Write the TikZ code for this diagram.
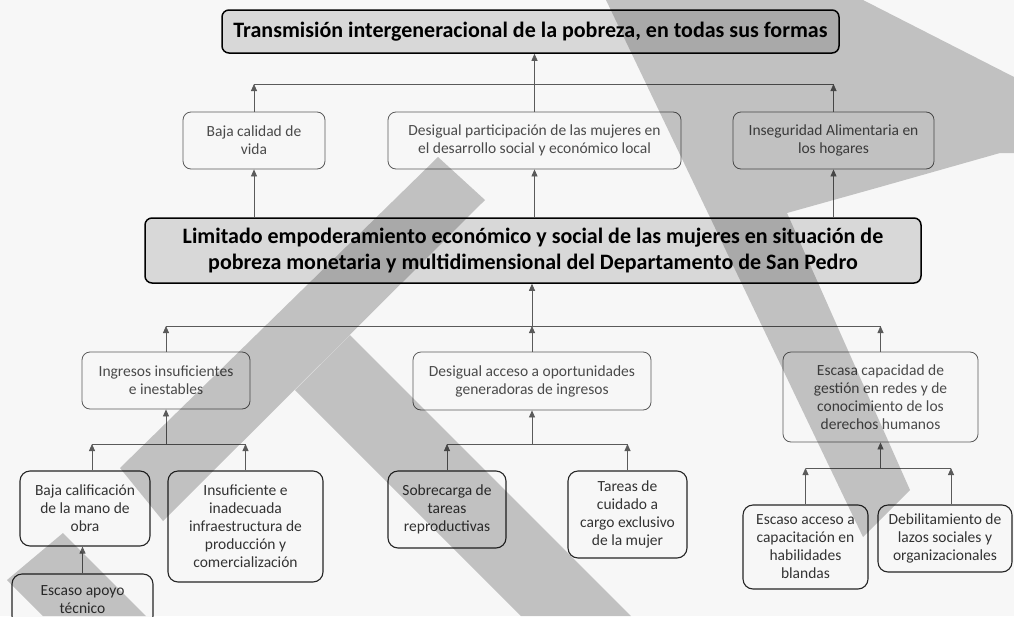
\documentclass[tikz,border=0pt]{standalone}
\usepackage{fontspec}
\setmainfont{Carlito}
\usetikzlibrary{arrows.meta}

\definecolor{fondo}{HTML}{F7F7F7}
\definecolor{relleno}{HTML}{D8D8D8}
\definecolor{borde}{HTML}{5A5A5A}
\definecolor{letra}{HTML}{4A4A4A}
\definecolor{marca}{HTML}{C8C8C8}

\tikzset{
  central/.style={draw=black, line width=1.5pt, rounded corners=7pt, fill=relleno,
    font=\fontsize{22}{26}\selectfont\bfseries, align=center, inner sep=0pt},
  causa/.style={draw=borde, line width=0.8pt, rounded corners=8pt, fill=fondo, text=letra,
    font=\fontsize{15.5}{18}\selectfont, align=center, inner sep=0pt},
  hoja/.style={causa, draw=black!85, line width=1.1pt, text=black!80, rounded corners=10pt},
  flecha/.style={-{Triangle[length=7pt,width=6pt]}, draw=borde, line width=0.8pt},
  enlace/.style={draw=borde, line width=0.8pt},
}

\begin{document}
\begin{tikzpicture}[x=1pt, y=-1pt]
  \fill[fondo] (0,0) rectangle (1014,616);
  \useasboundingbox (0,0) rectangle (1014,616);

  % problema central y efecto principal
  \node[central, minimum width=617pt, minimum height=43pt] (transmision) at (530.5,31.5)
    {Transmisión intergeneracional de la pobreza, en todas sus formas};
  \node[central, minimum width=776pt, minimum height=65pt] (limitado) at (533,250.5)
    {Limitado empoderamiento económico y social de las mujeres en situación de\\
     pobreza monetaria y multidimensional del Departamento de San Pedro};

  % efectos
  \node[causa, minimum width=142pt, minimum height=57pt] (calidad) at (254,140.5)
    {Baja calidad de\\ vida};
  \node[causa, minimum width=293pt, minimum height=57pt] (participacion) at (534.5,140.5)
    {Desigual participación de las mujeres en\\ el desarrollo social y económico local};
  \node[causa, minimum width=201pt, minimum height=57pt] (inseguridad) at (833.5,140.5)
    {Inseguridad Alimentaria en\\ los hogares};

  % causas directas
  \node[causa, minimum width=168pt, minimum height=57pt] (ingresos) at (166,380.5)
    {Ingresos insuficientes\\ e inestables};
  \node[causa, minimum width=238pt, minimum height=58pt] (acceso) at (532,381)
    {Desigual acceso a oportunidades\\ generadoras de ingresos};
  \node[causa, minimum width=195pt, minimum height=90pt] (capacidad) at (880.5,397)
    {Escasa capacidad de\\ gestión en redes y de\\ conocimiento de los\\ derechos humanos};

  % causas indirectas
  \node[hoja, minimum width=130pt, minimum height=75pt] (calificacion) at (85,508.5)
    {Baja calificación\\ de la mano de\\ obra};
  \node[hoja, minimum width=155pt, minimum height=111pt] (infraestructura) at (245.5,526.5)
    {Insuficiente e\\ inadecuada\\ infraestructura de\\ producción y\\ comercialización};
  \node[hoja, minimum width=141pt, minimum height=52pt] (apoyo) at (82.5,600)
    {Escaso apoyo\\ técnico};
  \node[hoja, minimum width=118pt, minimum height=77pt] (sobrecarga) at (447,509.5)
    {Sobrecarga de\\ tareas\\ reproductivas};
  \node[hoja, minimum width=119pt, minimum height=87pt] (tareas) at (627.5,514.5)
    {Tareas de\\ cuidado a\\ cargo exclusivo\\ de la mujer};
  \node[hoja, minimum width=125pt, minimum height=84pt] (escasoacceso) at (805.5,547)
    {Escaso acceso a\\ capacitación en\\ habilidades\\ blandas};
  \node[hoja, minimum width=134pt, minimum height=67pt] (lazos) at (945,538.5)
    {Debilitamiento de\\ lazos sociales y\\ organizacionales};

  % uniones
  \coordinate (e1) at (254,84);
  \coordinate (e2) at (833.5,84);
  \coordinate (c1) at (166,326);
  \coordinate (c2) at (880.5,326);
  \coordinate (i1) at (92,444);
  \coordinate (i2) at (245.5,444);
  \coordinate (a1) at (447,444);
  \coordinate (a2) at (627.5,444);
  \coordinate (d1) at (805.5,468);
  \coordinate (d2) at (951,468);

  % arriba
  \draw[enlace] (e1) -- (e2);
  \draw[flecha] (calidad.north) -- (e1);
  \draw[flecha] (inseguridad.north) -- (e2);
  \draw[flecha] (participacion.north) -- (participacion.north |- transmision.south);
  \draw[flecha] (calidad.south |- limitado.north) -- (calidad.south);
  \draw[flecha] (participacion.south |- limitado.north) -- (participacion.south);
  \draw[flecha] (inseguridad.south |- limitado.north) -- (inseguridad.south);

  % medio
  \draw[enlace] (c1) -- (c2);
  \draw[flecha] (ingresos.north) -- (c1);
  \draw[flecha] (capacidad.north) -- (c2);
  \draw[flecha] (acceso.north) -- (acceso.north |- c1);
  \draw[flecha] (acceso.north |- c1) -- (acceso.north |- limitado.south);

  % abajo
  \draw[enlace] (i1) -- (i2);
  \draw[flecha] (i1 |- calificacion.north) -- (i1);
  \draw[flecha] (infraestructura.north) -- (i2);
  \draw[flecha] (ingresos.south |- i1) -- (ingresos.south);
  \draw[flecha] (apoyo.north) -- (apoyo.north |- calificacion.south);

  \draw[enlace] (a1) -- (a2);
  \draw[flecha] (sobrecarga.north) -- (a1);
  \draw[flecha] (tareas.north) -- (a2);
  \draw[flecha] (acceso.south |- a1) -- (acceso.south);

  \draw[enlace] (d1) -- (d2);
  \draw[flecha] (escasoacceso.north) -- (d1);
  \draw[flecha] (d2 |- lazos.north) -- (d2);
  \draw[flecha] (capacidad.south |- d1) -- (capacidad.south);

  % marca de agua
  \begin{scope}[blend mode=multiply]
    \fill[marca] (120,468) -- (438,157) -- (485,200) -- (163,521) -- cycle;
    \fill[marca] (295,390) -- (350,335) -- (631,616) -- (521,616) -- cycle;
    \fill[marca] (7,580) -- (63,533) -- (146,616) -- (43,616) -- cycle;
    \fill[marca] (606,0) -- (863,0) -- (1014,77) -- (1014,153) -- (1000,153)
      -- (880,187) -- (787,213) -- (910,490) -- (863,537) -- cycle;
  \end{scope}
\end{tikzpicture}
\end{document}
